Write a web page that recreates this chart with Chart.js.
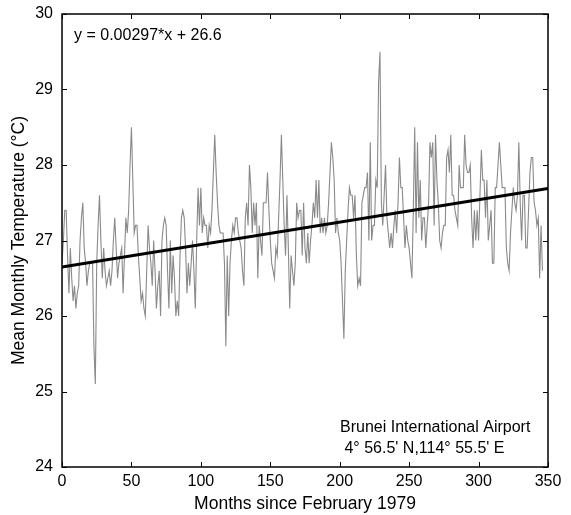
<!DOCTYPE html>
<html>
<head>
<meta charset="utf-8">
<style>
  html, body { margin: 0; padding: 0; background: #fff; }
  #c { display: block; }
</style>
<script src="https://cdn.jsdelivr.net/npm/chart.js@4/dist/chart.umd.min.js"></script>
</head>
<body>
<canvas id="c" width="571" height="515"></canvas>
<script>
// Mean monthly temperature (°C), month 0 = February 1979
const temps = [
  26.7, 27.0, 27.4, 27.4, 26.8, 26.3, 26.9, 26.5, 26.2, 26.4,
  26.1, 26.3, 26.4, 27.0, 27.3, 27.5, 26.9, 26.7, 26.4, 26.6,
  26.7, 26.7, 26.7, 25.6, 25.1, 26.7, 27.2, 27.6, 27.0, 26.5,
  26.9, 26.6, 26.4, 26.5, 26.6, 26.4, 26.6, 27.0, 27.3, 26.9,
  26.5, 26.7, 26.8, 26.9, 26.3,
  26.8, 27.3, 27.1, 27.4, 28.0, 28.5, 27.8, 27.1, 27.2, 27.2,
  26.8, 26.5, 26.2, 26.3, 26.1, 26.0, 26.6, 27.2, 26.9, 26.7,
  26.4, 27.0, 26.6, 26.1, 26.4, 26.6, 26.0, 27.0, 27.2, 27.3,
  27.2, 26.6, 26.1, 27.0, 26.3, 26.8, 26.5, 26.0, 26.2, 26.0,
  26.8, 27.3, 27.4, 27.3,
  26.9, 26.3, 26.7, 26.4, 26.7, 27.0, 26.6, 26.1, 27.0, 27.7,
  27.2, 27.7, 27.1, 27.3, 27.2, 27.2, 26.9, 27.2, 27.1, 27.4,
  27.9, 28.4, 27.9, 27.5, 27.2, 27.1, 27.1, 27.1, 26.7, 25.6,
  26.8, 26.0, 26.7, 27.0, 27.2, 27.1, 27.3, 27.3, 27.1, 27.0,
  26.9, 26.6, 26.4, 27.3, 27.5,
  27.2, 28.0, 27.7, 27.1, 27.5, 27.2, 27.5, 26.5, 27.2, 27.0,
  26.8, 27.5, 27.5, 27.5, 27.9, 27.4, 27.0, 26.7, 26.6, 26.5,
  26.9, 26.8, 27.3, 27.8, 28.4, 27.8, 27.2, 26.8, 27.6, 26.9,
  26.1, 26.8, 26.6, 26.4, 26.7, 27.5, 27.3, 27.4, 27.4, 26.8,
  27.5, 26.9, 26.7, 27.1, 26.7,
  27.0, 27.2, 27.5, 27.3, 27.8, 27.3, 27.8, 27.1, 27.3, 27.1,
  27.3, 27.1, 27.2, 27.5, 27.9, 28.3, 28.1, 27.8, 27.1, 27.3,
  27.1, 27.0, 26.7, 26.2, 25.7, 26.6, 27.0, 27.4, 27.7, 27.6,
  27.6, 27.3, 27.6, 26.8, 26.4, 26.5, 26.4, 27.5, 27.6, 27.7,
  27.7, 27.9, 27.0, 28.3,
  27.0, 27.2, 27.2, 27.8, 27.7, 29.1, 29.5, 27.5, 27.2, 27.6,
  28.0, 27.3, 27.1, 26.9, 27.1, 26.9, 27.2, 27.4, 27.1, 27.5,
  28.1, 27.7, 27.7, 27.3, 26.9, 27.2, 27.0, 26.9, 26.7, 26.5,
  27.4, 28.5, 27.1, 28.3, 27.3, 27.8, 27.0, 27.3, 27.3, 26.9,
  27.2, 27.5, 28.3,
  28.1, 28.3, 27.2, 28.4, 27.8, 27.5, 27.0, 26.9, 27.1, 27.2,
  27.2, 28.1, 28.2, 27.9, 28.4, 27.6, 27.6, 27.4, 27.3, 27.2,
  28.0, 27.7, 27.7, 27.7, 28.4, 28.0, 27.9, 27.9, 28.0, 27.3,
  26.9, 27.4, 27.0, 27.4, 27.0, 27.6, 28.2, 27.8, 27.8, 27.3,
  27.8, 27.0, 27.2, 27.4, 26.7,
  26.7, 27.7, 27.7, 28.0, 28.3, 28.0, 27.7, 27.7, 27.7, 26.9,
  26.7, 26.6, 27.1, 27.4, 27.7, 27.5, 27.4, 27.6, 28.3, 27.5,
  27.0, 27.6, 27.6, 26.9, 26.9, 27.4, 27.9, 28.1, 28.1, 27.5,
  27.4, 27.2, 27.3, 26.5, 27.2, 26.6
];
const months = temps.map((_, i) => i);

// Linear fit line as drawn (end points)
const trendMonths = [0, 350];
const trendTemps = [26.65, 27.69];

// Axis ticks
const xTicks = [0, 50, 100, 150, 200, 250, 300, 350];
const yTicks = [24, 25, 26, 27, 28, 29, 30];

const fitLabel = 'y = 0.00297*x + 26.6';
const siteLines = ['Brunei International Airport', ' 4\u00B0 56.5\' N,114\u00B0 55.5\' E'];

const FONT = '"Liberation Sans", Arial, Helvetica, sans-serif';

const framePlugin = {
  id: 'frame',
  afterDraw(chart) {
    const { ctx, chartArea: a, scales } = chart;
    const xs = scales.x, ys = scales.y;
    ctx.save();
    ctx.strokeStyle = '#000';
    ctx.lineWidth = 1.5;
    ctx.strokeRect(a.left, a.top, a.right - a.left, a.bottom - a.top);
    ctx.lineWidth = 1;
    const tl = 5;
    ctx.beginPath();
    xTicks.forEach(v => {
      const px = Math.round(xs.getPixelForValue(v)) + 0.5;
      ctx.moveTo(px, a.bottom); ctx.lineTo(px, a.bottom - tl);
      ctx.moveTo(px, a.top); ctx.lineTo(px, a.top + tl);
    });
    yTicks.forEach(v => {
      const py = Math.round(ys.getPixelForValue(v)) + 0.5;
      ctx.moveTo(a.left, py); ctx.lineTo(a.left + tl, py);
      ctx.moveTo(a.right, py); ctx.lineTo(a.right - tl, py);
    });
    ctx.stroke();

    ctx.fillStyle = '#000';
    ctx.font = '16px ' + FONT;
    ctx.textBaseline = 'alphabetic';
    ctx.textAlign = 'left';
    ctx.fillText(fitLabel, a.left + 12, a.top + 25.5);
    ctx.fillText(siteLines[0], a.left + 278, a.bottom - 35);
    ctx.fillText(siteLines[1], a.left + 278, a.bottom - 14);
    ctx.restore();
  }
};

new Chart(document.getElementById('c'), {
  type: 'line',
  data: {
    datasets: [
      {
        label: 'fit',
        data: trendMonths.map((m, i) => ({ x: m, y: trendTemps[i] })),
        borderColor: '#000',
        borderWidth: 3,
        pointRadius: 0,
        fill: false
      },
      {
        label: 'temperature',
        data: months.map((m, i) => ({ x: m, y: temps[i] })),
        borderColor: '#8a8a8a',
        borderWidth: 1.1,
        pointRadius: 0,
        tension: 0,
        fill: false
      }
    ]
  },
  options: {
    responsive: false,
    animation: false,
    devicePixelRatio: 1,
    layout: { padding: { left: 0, right: 23, top: 14, bottom: 0 } },
    plugins: { legend: { display: false }, tooltip: { enabled: false } },
    scales: {
      x: {
        type: 'linear',
        min: 0, max: 350,
        afterBuildTicks(s) { s.ticks = xTicks.map(v => ({ value: v })); },
        afterFit(s) { s.height = 48; s.paddingLeft = 0; s.paddingRight = 0; },
        grid: { display: false, drawTicks: false },
        border: { display: false },
        ticks: { color: '#000', font: { family: FONT, size: 16 }, padding: 5, maxRotation: 0 },
        title: { display: true, text: 'Months since February 1979', color: '#000',
                 font: { family: FONT, size: 17.5 }, padding: { top: 0, bottom: 0 } }
      },
      y: {
        type: 'linear',
        min: 24, max: 30,
        afterBuildTicks(s) { s.ticks = yTicks.map(v => ({ value: v })); },
        afterFit(s) { s.width = 62; s.paddingTop = 0; s.paddingBottom = 0; },
        grid: { display: false, drawTicks: false },
        border: { display: false },
        ticks: { color: '#000', font: { family: FONT, size: 16 }, padding: 9 },
        title: { display: true, text: 'Mean Monthly Temperature (\u00B0C)', color: '#000',
                 font: { family: FONT, size: 17.5 }, padding: { top: 9, bottom: 0 } }
      }
    }
  },
  plugins: [framePlugin]
});
</script>
</body>
</html>
